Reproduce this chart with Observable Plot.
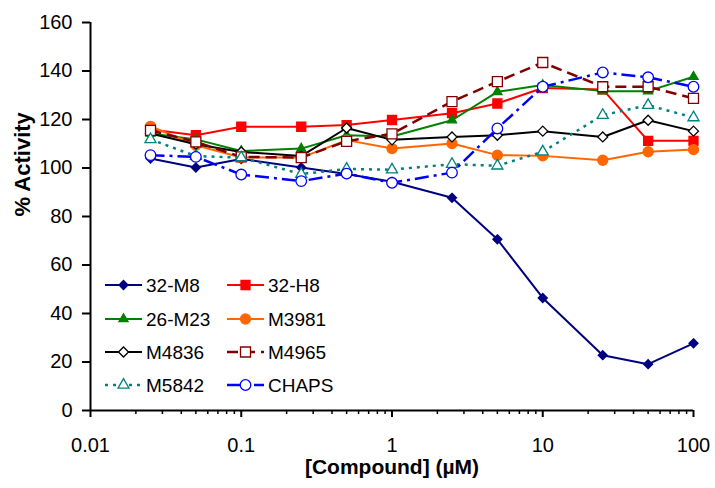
<!DOCTYPE html>
<html><head><meta charset="utf-8">
<script src="https://cdn.jsdelivr.net/npm/d3@7"></script>
<script src="https://cdn.jsdelivr.net/npm/@observablehq/plot@0.6"></script>
<style>
body{margin:0;background:#fff;}
svg{font-family:"Liberation Sans",Arial,sans-serif;}
</style>
</head><body><div id="chart"></div>
<script>
// ---- data ----
const conc = [0.025, 0.05, 0.1, 0.25, 0.5, 1, 2.5, 5, 10, 25, 50, 100];
const seriesNames = ["32-M8", "32-H8", "26-M23", "M3981", "M4836", "M4965", "M5842", "CHAPS"];
const v32M8  = [103.9, 100.2, 103.7, 100.2, 97.5, 94.3, 87.7, 70.6, 46.4, 22.8, 19.1, 27.7];
const v32H8  = [115.9, 113.5, 117.0, 117.0, 117.7, 119.8, 122.6, 126.6, 133.0, 132.4, 111.2, 111.2];
const v26M23 = [114.2, 111.8, 107.0, 108.0, 113.5, 113.0, 119.7, 131.4, 134.2, 131.7, 131.7, 137.6];
const vM3981 = [117.2, 109.4, 104.3, 104.3, 111.5, 108.0, 110.1, 105.3, 105.0, 103.2, 106.7, 107.6];
const vM4836 = [114.2, 109.8, 106.6, 104.9, 116.5, 111.6, 112.8, 113.5, 115.2, 112.8, 119.7, 115.2];
const vM4965 = [115.5, 110.8, 104.6, 104.3, 111.0, 114.1, 127.4, 135.6, 143.5, 133.5, 133.5, 128.7];
const vM5842 = [111.8, 104.9, 104.3, 97.5, 99.6, 99.3, 101.6, 100.9, 106.7, 121.8, 125.9, 120.8];
const vCHAPS = [105.3, 104.6, 97.3, 94.6, 97.7, 93.9, 98.1, 116.3, 133.5, 139.4, 137.4, 133.5];
const seriesValues = [v32M8, v32H8, v26M23, vM3981, vM4836, vM4965, vM5842, vCHAPS];
const yTicks = [0, 20, 40, 60, 80, 100, 120, 140, 160];
const xTicks = [0.01, 0.1, 1, 10, 100];
const xTickLabels = ["0.01", "0.1", "1", "10", "100"];
const xTitle = "[Compound] (µM)";
const yTitle = "% Activity";

// ---- styles ----
const styles = {
  "32-M8":  {color: "#000080", symbol: "diamond2", r: 4.05, fill: "#000080", dash: null, sw: 2},
  "32-H8":  {color: "#FF0000", symbol: "square",   r: 5.08, fill: "#FF0000", dash: null, sw: 2},
  "26-M23": {color: "#008000", symbol: "triangle", r: 3.4,  fill: "#008000", dash: null, sw: 2},
  "M3981":  {color: "#FF6600", symbol: "circle",   r: 5,    fill: "#FF6600", dash: null, sw: 2},
  "M4836":  {color: "#000000", symbol: "diamond2", r: 4.5,  fill: "#FFFFFF", dash: null, sw: 2},
  "M4965":  {color: "#800000", symbol: "square",   r: 5.64, fill: "#FFFFFF", dash: "11,6", sw: 2.5},
  "M5842":  {color: "#008080", symbol: "triangle", r: 4.1,  fill: "#FFFFFF", dash: "3,5", sw: 2.5},
  "CHAPS":  {color: "#0000FF", symbol: "circle",   r: 5.3,  fill: "#FFFFFF", dash: "14,5,3,5", sw: 2.5}
};

const rows = seriesNames.flatMap((name, i) => seriesValues[i].map((v, j) => ({name, x: conc[j], y: v})));

const minorTicks = [];
for (const d of [0.01, 0.1, 1, 10]) for (let k = 2; k <= 9; k++) minorTicks.push(+(d * k).toPrecision(3));
const xLabelMap = new Map(xTicks.map((t, i) => [t, xTickLabels[i]]));

const seriesMarks = seriesNames.flatMap(name => {
  const s = styles[name];
  const data = rows.filter(d => d.name === name);
  return [
    Plot.line(data, {x: "x", y: "y", stroke: s.color, strokeWidth: s.sw, strokeDasharray: s.dash ?? undefined, strokeLinecap: "butt"}),
    Plot.dot(data, {x: "x", y: "y", symbol: () => s.symbol, r: s.r, fill: s.fill, stroke: s.color, strokeWidth: 1.3})
  ];
});

const chart = Plot.plot({
  width: 715,
  height: 488,
  marginLeft: 90,
  marginRight: 22,
  marginTop: 22,
  marginBottom: 78,
  style: {fontFamily: '"Liberation Sans", Arial, sans-serif', background: "#fff", color: "#000"},
  x: {type: "log", domain: [0.01, 100], label: null},
  y: {domain: [0, 160], label: null},
  symbol: {type: "identity"},
  marks: [
    Plot.axisY(yTicks, {tickSize: 8, tickPadding: 10, fontSize: 20, strokeWidth: 2, label: null}),
    Plot.axisX(xTicks, {tickSize: 7, tickPadding: 20, fontSize: 20, strokeWidth: 2, label: null, tickFormat: d => xLabelMap.get(d)}),
    Plot.axisX(minorTicks, {tickSize: 4, strokeWidth: 1.5, fill: "none", label: null}),
    ...seriesMarks,
    Plot.ruleY([0], {stroke: "#000", strokeWidth: 2}),
    Plot.ruleX([0.01], {stroke: "#000", strokeWidth: 2}),
    Plot.text([xTitle], {frameAnchor: "bottom", dy: 63, text: d => d, fontSize: 21, fontWeight: "bold"}),
    Plot.text([yTitle], {frameAnchor: "left", dx: -68, rotate: -90, text: d => d, fontSize: 22, fontWeight: "bold"})
  ]
});
document.getElementById("chart").appendChild(chart);

// ---- legend (inside plot, lower left, two columns) ----
const svg = d3.select(chart);
const lg = svg.append("g").attr("class", "legend").attr("text-anchor", "start");
const legendCols = [105, 227];
const legendRows = [285, 319, 352, 385];
const symMap = {diamond2: d3.symbolDiamond2, square: d3.symbolSquare, triangle: d3.symbolTriangle, circle: d3.symbolCircle};
seriesNames.forEach((name, i) => {
  const s = styles[name];
  const x0 = legendCols[i % 2], y0 = legendRows[Math.floor(i / 2)];
  lg.append("line").attr("x1", x0).attr("x2", x0 + 37).attr("y1", y0).attr("y2", y0)
    .attr("stroke", s.color).attr("stroke-width", s.sw).attr("stroke-dasharray", s.dash);
  lg.append("path").attr("transform", `translate(${x0 + 18.5},${y0})`)
    .attr("d", d3.symbol(symMap[s.symbol], Math.PI * s.r * s.r)())
    .attr("fill", s.fill).attr("stroke", s.color).attr("stroke-width", 1.3);
  lg.append("text").attr("x", x0 + 41).attr("y", y0).attr("dy", "0.35em")
    .attr("text-anchor", "start").attr("font-size", 19).attr("fill", "#000").text(name);
});
</script>
</body></html>
